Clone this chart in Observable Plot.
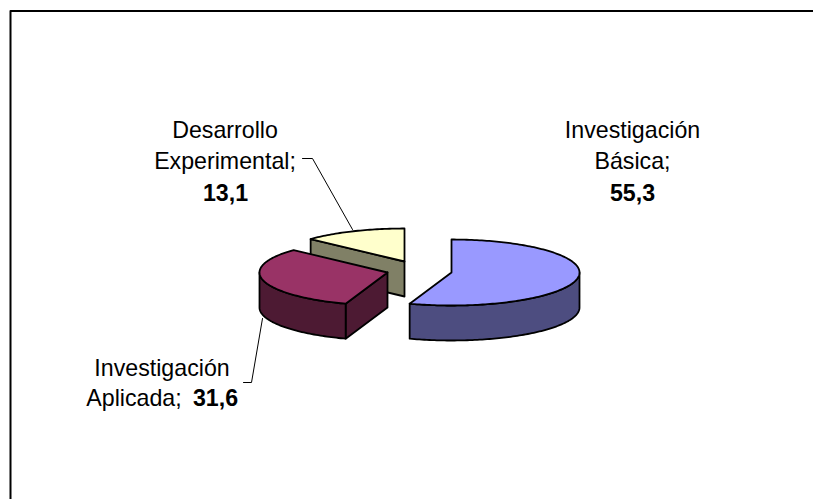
<!DOCTYPE html>
<html><head><meta charset="utf-8">
<script src="https://cdn.jsdelivr.net/npm/d3@7"></script>
<script src="https://cdn.jsdelivr.net/npm/@observablehq/plot@0.6"></script>
<style>html,body{margin:0;padding:0;background:#fff}svg{display:block}</style>
</head><body><div id="chart"></div>
<script>
const categories = ["Investigación Básica", "Investigación Aplicada", "Desarrollo Experimental"];
const values = [55.3, 31.6, 13.1];
const valueLabels = ["55,3", "31,6", "13,1"];

// layout of the drawing (pixels), not data
const W = 813, H = 499;
const centres = [[451, 272], [387, 272], [404, 261]];
const rx = 128, ry = 33, depth = 35;
const topColours = ["#9999ff", "#993366", "#ffffcc"];
const sideColours = ["#4d4d80", "#4d1a33", "#808066"];
const paintOrder = [2, 1, 0]; // back slice first

const total = d3.sum(values);
let cum = 0;
const slices = values.map((v, i) => {
  const a0 = cum / total * 2 * Math.PI; cum += v;
  return {i, a0, a1: cum / total * 2 * Math.PI, c: centres[i]};
});
const pt = (s, a, dz = 0) => [s.c[0] + rx * Math.sin(a), s.c[1] - ry * Math.cos(a) + dz];
const arcPts = (s, a, b, dz = 0) => {
  const n = Math.max(2, Math.ceil(Math.abs(b - a) / 0.02));
  return d3.range(n + 1).map(k => pt(s, a + (b - a) * k / n, dz));
};
const polyRows = [];
let pid = 0;
const add = (colour, pts) => {
  pid++;
  pts.concat([pts[0]]).forEach(q => polyRows.push({id: pid, colour, x: q[0], y: q[1]}));
};
paintOrder.forEach(i => {
  const s = slices[i], cb = [s.c[0], s.c[1] + depth];
  // cut face along the slice's starting radius: seen from the front on the red and yellow slices
  if (s.a0 > 0) add(sideColours[i], [s.c, pt(s, s.a0), pt(s, s.a0, depth), cb]);
  // outer rim, only where it faces the viewer
  const lo = Math.max(s.a0, Math.PI / 2), hi = Math.min(s.a1, 3 * Math.PI / 2);
  if (lo < hi) add(sideColours[i], [...arcPts(s, lo, hi), ...arcPts(s, hi, lo, depth)]);
  add(topColours[i], [s.c, ...arcPts(s, s.a0, s.a1)]);
});

const textRows = [
  {x: 632, y: 129.6, t: "Investigación", w: "normal"},
  {x: 632, y: 161, t: "Básica;", w: "normal"},
  {x: 632, y: 192.6, t: valueLabels[0], w: "bold"},
  {x: 224.5, y: 129.6, t: "Desarrollo", w: "normal"},
  {x: 224.5, y: 161, t: "Experimental;", w: "normal"},
  {x: 225, y: 192.6, t: valueLabels[2], w: "bold"},
  {x: 161.5, y: 367.6, t: "Investigación", w: "normal"},
  {x: 133.5, y: 397.6, t: "Aplicada;", w: "normal"},
  {x: 215, y: 397.6, t: valueLabels[1], w: "bold"}
];
const leaders = [
  {id: 0, pts: [[302, 158], [312, 158], [352, 229]]},
  {id: 1, pts: [[243, 382], [251, 382], [262, 318]]}
].flatMap(l => l.pts.map(p => ({id: l.id, x: p[0], y: p[1]})));
const frameRows = [[10, H + 2], [10, 10.5], [W + 2, 10.5]].map(p => ({x: p[0], y: p[1]}));

const chart = Plot.plot({
  width: W, height: H, margin: 0,
  x: {domain: [0, W], range: [0, W], axis: null},
  y: {domain: [0, H], range: [0, H], axis: null},
  marks: [
    Plot.line(frameRows, {x: "x", y: "y", stroke: "#000", strokeWidth: 2}),
    Plot.line(leaders, {x: "x", y: "y", z: "id", stroke: "#000", strokeWidth: 1}),
    Plot.line(polyRows, {x: "x", y: "y", z: "id", fill: "colour", stroke: "#000", strokeWidth: 1.8, strokeLinejoin: "round"}),
    Plot.text(textRows.filter(d => d.w === "normal"), {x: "x", y: "y", text: "t", fontSize: 23.2, fontFamily: "Liberation Sans", fill: "#000"}),
    Plot.text(textRows.filter(d => d.w === "bold"), {x: "x", y: "y", text: "t", fontSize: 23.2, fontWeight: "bold", fontFamily: "Liberation Sans", fill: "#000"})
  ]
});
document.getElementById("chart").append(chart);
</script></body></html>
